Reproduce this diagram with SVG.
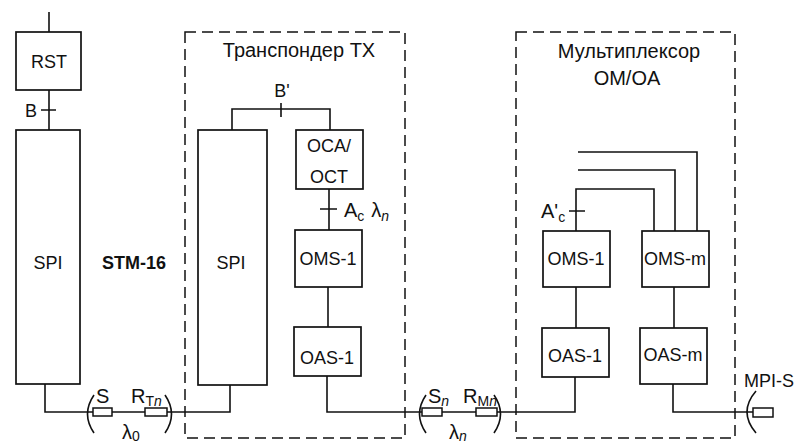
<svg xmlns="http://www.w3.org/2000/svg" width="803" height="444" viewBox="0 0 803 444">
<style>
.box{fill:#fff;stroke:#111;stroke-width:1.7}
.res{fill:#fff;stroke:#111;stroke-width:1.5}
.ln{fill:none;stroke:#111;stroke-width:1.6}
.dash{fill:none;stroke:#111;stroke-width:1.5;stroke-dasharray:11 6}
text{font-family:"Liberation Sans",Arial,sans-serif;fill:#111;font-size:18px}
.c{text-anchor:middle}
.t{font-size:20px}
.l{font-size:20px}
.b{font-weight:bold}
.sub{font-size:14px}
</style>
<rect width="803" height="444" fill="#fff"/>
<g id="frames">
<rect class="dash" x="185" y="32" width="220" height="406"/>
<rect class="dash" x="516" y="32" width="219" height="406"/>
<text class="t c" x="299" y="57">Транспондер TX</text>
<text class="t c" x="629" y="58">Мультиплексор</text>
<text class="t c" x="627" y="85">OM/OA</text>
</g>
<g id="connectors">
<path class="ln" d="M49 12V32M49 90V130M41 110H56"/>
<path class="ln" d="M232 130V109H330V130M281 103V117"/>
<path class="ln" d="M329 189V230M320 209H337"/>
<path class="ln" d="M328 287V327"/>
<path class="ln" d="M576 287V328M576 231V189H654V231M569 211H585"/>
<path class="ln" d="M578 170H675V231M578 152H697V231"/>
<path class="ln" d="M674 287V328"/>
<path class="ln" d="M45 384V412H93M112 412H145M167 412H230V385"/>
<path class="ln" d="M327 376V412H422M442 412H476M497 412H575V377"/>
<path class="ln" d="M673 384V412H753"/>
<path class="ln" d="M94 395Q81 414 94 433M165 395Q178 414 165 433"/>
<path class="ln" d="M426 395Q413 414 426 433M494 395Q507 414 494 433"/>
<path class="ln" d="M756 391Q738 412 756 433"/>
<rect class="res" x="93" y="408" width="19" height="8"/>
<rect class="res" x="145" y="408" width="22" height="8"/>
<rect class="res" x="422" y="408" width="20" height="8"/>
<rect class="res" x="476" y="408" width="21" height="8"/>
<rect class="res" x="753" y="408" width="20" height="9"/>
<text x="25" y="117">B</text>
<text class="c" x="282" y="97">B'</text>
<text class="l" x="344" y="217">A<tspan class="sub" dy="4">c</tspan><tspan dx="7" dy="-4">λ</tspan><tspan class="sub" font-style="italic" dy="4">n</tspan></text>
<text class="l" x="541" y="218">A'<tspan class="sub" dy="4">c</tspan></text>
<text class="l" x="96" y="403">S</text>
<text class="l" x="131" y="403">R<tspan class="sub" dy="3">T</tspan><tspan class="sub" font-style="italic">n</tspan></text>
<text class="l" x="122" y="439">λ<tspan class="sub" dy="2">0</tspan></text>
<text class="l" x="428" y="403">S<tspan class="sub" font-style="italic" dy="3">n</tspan></text>
<text class="l" x="463" y="403">R<tspan class="sub" dy="3">M</tspan><tspan class="sub" font-style="italic">n</tspan></text>
<text class="l" x="449" y="439">λ<tspan class="sub" font-style="italic" dy="2">n</tspan></text>
<text x="744" y="387">MPI-S</text>
<text class="b c" x="134" y="269">STM-16</text>
</g>
<g id="rst"><rect class="box" x="16" y="32" width="65" height="58"/><text class="c" x="49" y="68">RST</text></g>
<g id="spi1"><rect class="box" x="16" y="130" width="64" height="254"/><text class="c" x="48" y="269">SPI</text></g>
<g id="spi2"><rect class="box" x="198" y="130" width="69" height="255"/><text class="c" x="231" y="269">SPI</text></g>
<g id="oca"><rect class="box" x="296" y="130" width="67" height="59"/><text class="c" x="329" y="152">OCA/</text><text class="c" x="329" y="183">OCT</text></g>
<g id="oms1"><rect class="box" x="295" y="230" width="67" height="57"/><text class="c" x="328" y="265">OMS-1</text></g>
<g id="oas1"><rect class="box" x="294" y="327" width="67" height="49"/><text class="c" x="327" y="364">OAS-1</text></g>
<g id="oms1b"><rect class="box" x="543" y="231" width="67" height="56"/><text class="c" x="576" y="265">OMS-1</text></g>
<g id="omsm"><rect class="box" x="642" y="231" width="67" height="56"/><text class="c" x="675" y="265">OMS-m</text></g>
<g id="oas1b"><rect class="box" x="542" y="328" width="67" height="49"/><text class="c" x="575" y="362">OAS-1</text></g>
<g id="oasm"><rect class="box" x="640" y="328" width="67" height="56"/><text class="c" x="673" y="361">OAS-m</text></g>
</svg>
